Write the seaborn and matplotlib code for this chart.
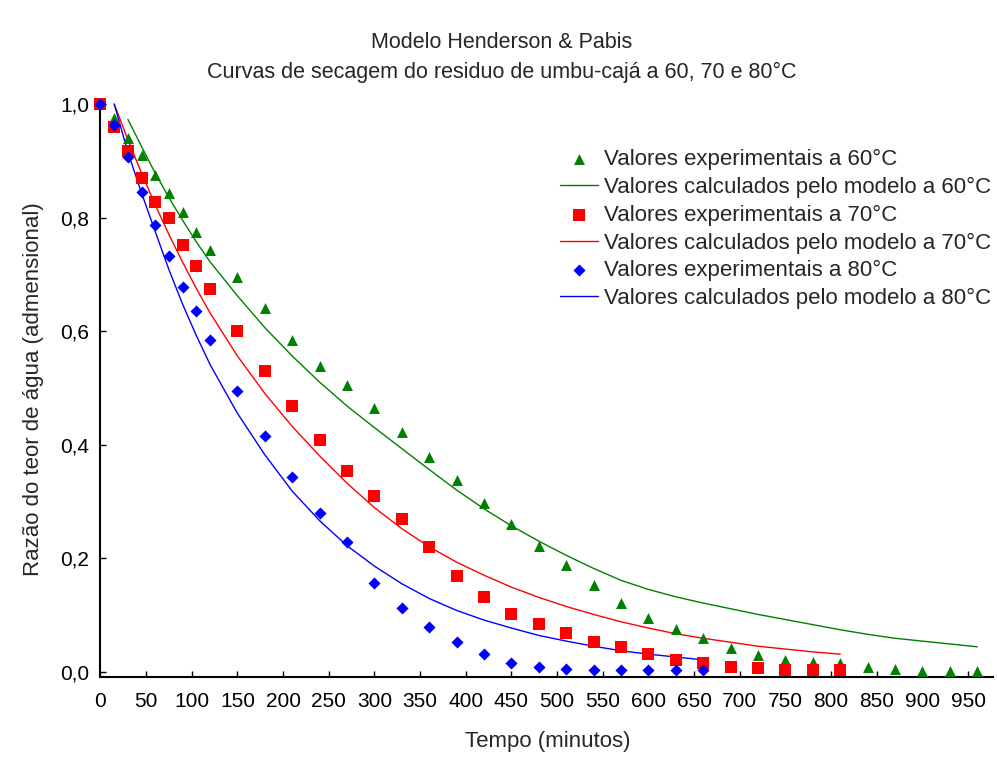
import seaborn as sns
import pandas as pd
import matplotlib
matplotlib.use("Agg")
import matplotlib.pyplot as plt

# tempos de secagem (minutos)
tempo_60 = [0, 15, 30, 45, 60, 75, 90, 105, 120, 150, 180, 210, 240, 270, 300, 330, 360, 390,
            420, 450, 480, 510, 540, 570, 600, 630, 660, 690, 720, 750, 780, 810, 840, 870, 900,
            930, 960]
tempo_70 = tempo_60[:32]
tempo_80 = tempo_60[:27]

# valores experimentais (razao do teor de agua)
exp_60 = [1.0, 0.976, 0.941, 0.910, 0.875, 0.844, 0.809, 0.774, 0.743, 0.695, 0.641, 0.585,
          0.538, 0.505, 0.464, 0.423, 0.379, 0.338, 0.297, 0.261, 0.222, 0.188, 0.153, 0.121,
          0.094, 0.075, 0.059, 0.042, 0.030, 0.021, 0.018, 0.015, 0.008, 0.005, 0.002, 0.002,
          0.002]
exp_70 = [1.0, 0.960, 0.917, 0.870, 0.828, 0.800, 0.752, 0.715, 0.674, 0.601, 0.529, 0.469,
          0.408, 0.353, 0.309, 0.269, 0.220, 0.169, 0.131, 0.102, 0.084, 0.068, 0.052, 0.043,
          0.031, 0.021, 0.015, 0.008, 0.006, 0.004, 0.004, 0.004]
exp_80 = [1.0, 0.963, 0.907, 0.845, 0.787, 0.733, 0.677, 0.636, 0.585, 0.494, 0.415, 0.343,
          0.279, 0.229, 0.156, 0.112, 0.078, 0.052, 0.031, 0.015, 0.008, 0.005, 0.003, 0.003,
          0.003, 0.003, 0.003]

# valores calculados pelo modelo
mod_t60 = tempo_60[2:]
mod_60 = [0.973, 0.925, 0.878, 0.835, 0.795, 0.757, 0.722, 0.662, 0.606, 0.556, 0.510, 0.468,
          0.430, 0.393, 0.356, 0.320, 0.287, 0.257, 0.230, 0.205, 0.182, 0.161, 0.145, 0.132,
          0.121, 0.111, 0.101, 0.092, 0.083, 0.074, 0.066, 0.059, 0.054, 0.049, 0.044]
mod_t70 = tempo_70[1:]
mod_70 = [1.0, 0.937, 0.878, 0.822, 0.770, 0.721, 0.675, 0.632, 0.556, 0.490, 0.432, 0.380,
          0.332, 0.289, 0.252, 0.220, 0.193, 0.170, 0.149, 0.131, 0.115, 0.101, 0.088, 0.077,
          0.067, 0.059, 0.052, 0.045, 0.040, 0.035, 0.031]
mod_t80 = tempo_80[1:]
mod_80 = [1.0, 0.915, 0.843, 0.775, 0.708, 0.647, 0.592, 0.541, 0.455, 0.382, 0.318, 0.266,
          0.222, 0.186, 0.155, 0.129, 0.108, 0.091, 0.077, 0.064, 0.054, 0.045, 0.037, 0.031,
          0.026, 0.021]

x_ticks = list(range(0, 1000, 50))
y_ticks = [0.0, 0.2, 0.4, 0.6, 0.8, 1.0]
y_tick_labels = ["0,0", "0,2", "0,4", "0,6", "0,8", "1,0"]

sns.set_style("ticks")
plt.rcParams['font.family'] = ['Liberation Sans', 'DejaVu Sans']
plt.rcParams['font.size'] = 15

fig = plt.figure(figsize=(9.97, 7.58), dpi=100)
ax = fig.add_axes([0.1008, 0.107, 0.895, 0.761])

series = [
    (tempo_60, exp_60, mod_t60, mod_60, "#008000", "^", 62, "60"),
    (tempo_70, exp_70, mod_t70, mod_70, "#ff0000", "s", 70, "70"),
    (tempo_80, exp_80, mod_t80, mod_80, "#0000ff", "D", 38, "80"),
]

handles = []
labels = []
for t, e, mt, m, cor, mk, sz, temp in series:
    df_e = pd.DataFrame({'Tempo': t, 'MR': e})
    df_m = pd.DataFrame({'Tempo': mt, 'MR': m})
    sns.scatterplot(x='Tempo', y='MR', data=df_e, ax=ax, color=cor, marker=mk, s=sz,
                    linewidth=0, clip_on=False, zorder=3)
    sns.lineplot(x='Tempo', y='MR', data=df_m, ax=ax, color=cor, linewidth=1.0,
                 errorbar=None, zorder=2)
    handles.append(ax.collections[-1])
    labels.append("Valores experimentais a %s°C" % temp)
    handles.append(ax.lines[-1])
    labels.append("Valores calculados pelo modelo a %s°C" % temp)

ax.set_xlim(0, 977)
ax.set_ylim(-0.009, 1.007)
ax.set_xticks(x_ticks)
ax.set_yticks(y_ticks)
ax.set_yticklabels(y_tick_labels)
ax.set_xlabel("")
ax.set_ylabel("")
ax.tick_params(direction='in', length=4, width=1, colors='black', labelsize=15)
ax.tick_params(axis='x', pad=11)
ax.tick_params(axis='y', pad=8)
sns.despine(ax=ax)
for sp in ['left', 'bottom']:
    ax.spines[sp].set_linewidth(1.5)
    ax.spines[sp].set_color('black')

ax.legend(handles, labels, loc='upper left', bbox_to_anchor=(560 / 997, 1 - 149 / 758),
          bbox_transform=fig.transFigure, frameon=False, borderaxespad=0, borderpad=0,
          fontsize=16, handlelength=1.7, handletextpad=0.3, labelspacing=0.3)

fig.text(0.503, 1 - 42 / 758, "Modelo Henderson & Pabis", ha='center', va='center', fontsize=15.5)
fig.text(0.503, 1 - 72 / 758, "Curvas de secagem do residuo de umbu-cajá a 60, 70 e 80°C",
         ha='center', va='center', fontsize=15.5)
fig.text(548 / 997, 1 - 742 / 758, "Tempo (minutos)", ha='center', va='center', fontsize=16)
fig.text(33 / 997, 1 - 389 / 758, "Razão do teor de água (admensional)", ha='center',
         va='center', rotation=90, fontsize=16)

fig.savefig("out.png", dpi=100)
